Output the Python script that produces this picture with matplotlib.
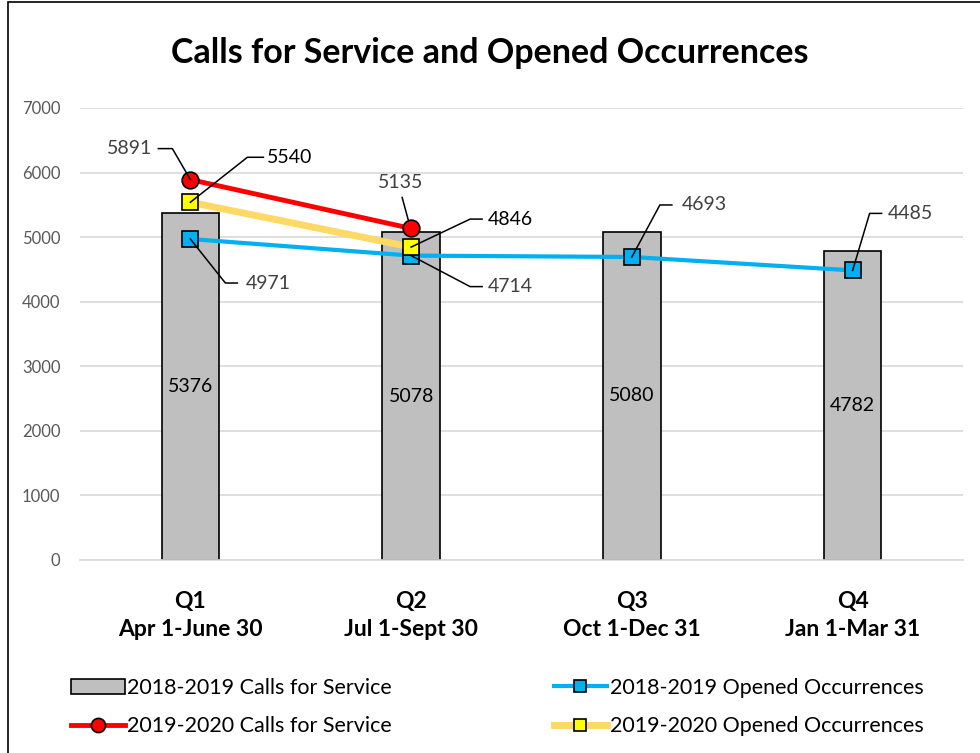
#!/usr/bin/env python3

import matplotlib
matplotlib.use('Agg')
import matplotlib.pyplot as plt
import matplotlib.transforms as mtransforms
from matplotlib.patches import Rectangle
from matplotlib.lines import Line2D

plt.rcParams['font.family'] = ['Lato', 'DejaVu Sans']

quarters = ['Q1\nApr 1-June 30', 'Q2\nJul 1-Sept 30', 'Q3\nOct 1-Dec 31', 'Q4\nJan 1-Mar 31']
calls_1819 = [5376, 5078, 5080, 4782]
occ_1819 = [4971, 4714, 4693, 4485]
calls_1920 = [5891, 5135]
occ_1920 = [5540, 4846]

GRAY_TXT = '#404040'


def leader(ax, fig, x, y, pts, text, tx, ty, ha='left', color=GRAY_TXT):
    # pts / tx, ty are pixel offsets from the data point
    trans = mtransforms.Affine2D().scale(fig.dpi / 100) + \
        mtransforms.ScaledTranslation(x, y, ax.transData)
    xs = [p[0] for p in pts]
    ys = [p[1] for p in pts]
    ax.add_line(Line2D(xs, ys, transform=trans, color='black', lw=1.1,
                       zorder=6, clip_on=False))
    ax.text(tx, ty, text, transform=trans, ha=ha, va='center',
            fontsize=14, color=color, zorder=7)


def main():
    fig = plt.figure(figsize=(9.8, 7.53), dpi=100)
    ax = fig.add_axes([80 / 980, 1 - 560 / 753, 883 / 980, 452 / 753])

    x = list(range(len(quarters)))

    bars = ax.bar(x, calls_1819, width=0.26, color='#BFBFBF', edgecolor='black',
                  linewidth=1.2, zorder=2, label='2018-2019 Calls for Service')
    for xi, v in zip(x, calls_1819):
        ax.text(xi, v / 2, str(v), ha='center', va='center', fontsize=14,
                color='black', zorder=3)

    l_blue, = ax.plot(x, occ_1819, '-s', color='#00B0F0', lw=3, markersize=11,
                      markerfacecolor='#00B0F0', markeredgecolor='black',
                      markeredgewidth=1.2, zorder=4,
                      label='2018-2019 Opened Occurrences')
    l_yel, = ax.plot(x[:2], occ_1920, '-s', color='#FFD966', lw=5, markersize=11,
                     markerfacecolor='#FFFF00', markeredgecolor='black',
                     markeredgewidth=1.2, zorder=4,
                     label='2019-2020 Opened Occurrences')
    l_red, = ax.plot(x[:2], calls_1920, '-o', color='#FF0000', lw=3.5, markersize=12,
                     markerfacecolor='#FF0000', markeredgecolor='black',
                     markeredgewidth=1.2, zorder=5,
                     label='2019-2020 Calls for Service')

    # data labels with leader lines (pixel offsets, y up)
    leader(ax, fig, 0, calls_1920[0], [(0, 0), (-18, 31), (-32, 31)],
           str(calls_1920[0]), -38, 31, ha='right')
    leader(ax, fig, 0, occ_1920[0], [(0, 0), (57, 45), (73, 45)],
           str(occ_1920[0]), 77, 45, color='black')
    leader(ax, fig, 0, occ_1819[0], [(0, 0), (35, -44), (47, -44)],
           str(occ_1819[0]), 55, -44)
    leader(ax, fig, 1, calls_1920[1], [(-3, 9), (-9, 31)],
           str(calls_1920[1]), -11, 46, ha='center')
    leader(ax, fig, 1, occ_1920[1], [(0, 0), (59, 28), (71, 28)],
           str(occ_1920[1]), 77, 28, color='black')
    leader(ax, fig, 1, occ_1819[1], [(0, 0), (59, -31), (71, -31)],
           str(occ_1819[1]), 77, -31)
    leader(ax, fig, 2, occ_1819[2], [(0, 0), (28, 52), (40, 52)],
           str(occ_1819[2]), 50, 52)
    leader(ax, fig, 3, occ_1819[3], [(0, 0), (17, 57), (29, 57)],
           str(occ_1819[3]), 35, 57)

    ax.set_xlim(-0.5, 3.5)
    ax.set_ylim(0, 7000)
    ax.set_yticks(range(0, 7001, 1000))
    ax.set_xticks(x)
    ax.set_xticklabels(quarters, fontsize=16.5, fontweight='bold', linespacing=1.45)
    ax.tick_params(axis='x', length=0, pad=22)
    ax.tick_params(axis='y', length=0, pad=14, labelsize=12, labelcolor='#595959')
    ax.grid(axis='y', color='#D9D9D9', lw=1.2, zorder=0)
    ax.set_axisbelow(True)
    for side in ['top', 'right', 'left']:
        ax.spines[side].set_visible(False)
    ax.spines['bottom'].set_color('#D9D9D9')
    ax.spines['bottom'].set_linewidth(1.2)

    fig.text(0.5, 1 - 53 / 753, 'Calls for Service and Opened Occurrences',
             ha='center', va='center', fontsize=24.5, fontweight='bold')

    fig.legend(handles=[bars, l_red, l_blue, l_yel], ncol=2,
               loc='center left', bbox_to_anchor=(52 / 980, 1 - 707 / 753),
               frameon=False, fontsize=15.5, handlelength=2.5, handletextpad=0.1,
               columnspacing=7.5, labelspacing=0.85, markerscale=0.85)

    fig.patches.append(Rectangle((8 / 980, -0.01), 1.1, 1 - 2 / 753 + 0.01,
                                 transform=fig.transFigure, fill=False,
                                 edgecolor='black', lw=1.2))

    fig.savefig('out.png', dpi=100)


if __name__ == '__main__':
    main()
